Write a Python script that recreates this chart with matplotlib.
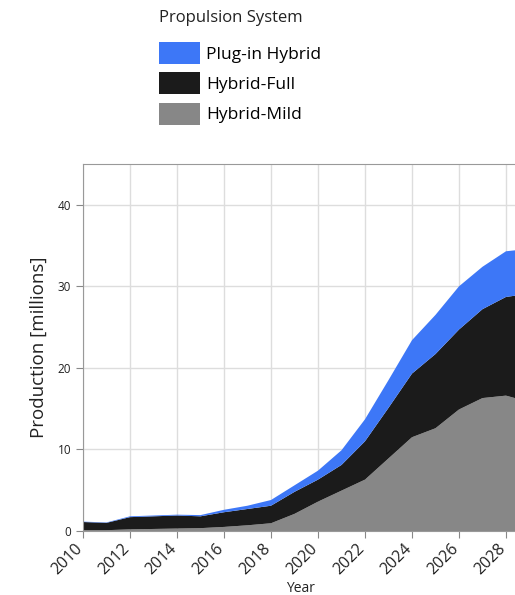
import numpy as np
import matplotlib.pyplot as plt

years = list(range(2010, 2030))
# stacked tops
mild_top = [0.1, 0.1, 0.2, 0.25, 0.3, 0.35, 0.5, 0.7, 0.95, 2.1, 3.6, 4.95, 6.3, 8.9, 11.5, 12.6, 14.9, 16.3, 16.6, 15.8]
full_top = [1.1, 1.0, 1.7, 1.8, 1.9, 1.8, 2.3, 2.7, 3.1, 4.8, 6.3, 8.1, 11.0, 15.1, 19.3, 21.7, 24.7, 27.2, 28.7, 29.1]
total_top = [1.15, 1.05, 1.8, 1.9, 2.0, 1.95, 2.6, 3.1, 3.8, 5.6, 7.4, 9.9, 13.7, 18.5, 23.4, 26.5, 30.0, 32.4, 34.3, 34.6]

hybrid_mild = np.array(mild_top)
hybrid_full = np.array(full_top) - np.array(mild_top)
plug_in = np.array(total_top) - np.array(full_top)

labels = ['Plug-in Hybrid', 'Hybrid-Full', 'Hybrid-Mild']
colors = ['#3d77f7', '#1b1b1b', '#878787']
xticks = list(range(2010, 2030, 2))

plt.rcParams['font.family'] = ['Open Sans', 'DejaVu Sans']

fig = plt.figure(figsize=(5.15, 5.95), dpi=100)
ax = fig.add_axes([83 / 515, 64 / 595, 470 / 515, 367 / 595])

polys = ax.stackplot(years, hybrid_mild, hybrid_full, plug_in,
                     colors=[colors[2], colors[1], colors[0]], linewidth=0)

ax.set_xlim(2010, 2030)
ax.set_ylim(0, 45)
ax.set_xticks(xticks)
ax.set_xticklabels([str(x) for x in xticks], rotation=45, ha='right',
                   va='baseline', rotation_mode='anchor', fontsize=11.5)
ax.set_yticks([0, 10, 20, 30, 40])
ax.grid(True, color='#dddddd', linewidth=1)
ax.set_axisbelow(True)

for s in ['left', 'bottom', 'top']:
    ax.spines[s].set_color('#999999')
ax.spines['right'].set_visible(False)
ax.tick_params(axis='both', colors='#888888', length=5, labelcolor='#222222')
ax.tick_params(axis='x', pad=8)
ax.tick_params(axis='y', labelsize=8.5)

ax.set_ylabel('Production [millions]', fontsize=13.5, color='#222222', labelpad=7)
ax.set_xlabel('Year', fontsize=10, color='#222222')
ax.xaxis.set_label_coords(218 / 470, -0.135)

fig.text(159 / 515, 1 - 18 / 595, 'Propulsion System', fontsize=12,
         color='#222222', va='center', ha='left')
leg = fig.legend([polys[2], polys[1], polys[0]], labels,
                 loc='upper left', bbox_to_anchor=(159 / 515, 1 - 42 / 595),
                 frameon=False, fontsize=12.5, borderpad=0, borderaxespad=0,
                 handlelength=2.36, handleheight=1.57, labelspacing=0.48,
                 handletextpad=0.35)

fig.savefig('out.png', dpi=100)
